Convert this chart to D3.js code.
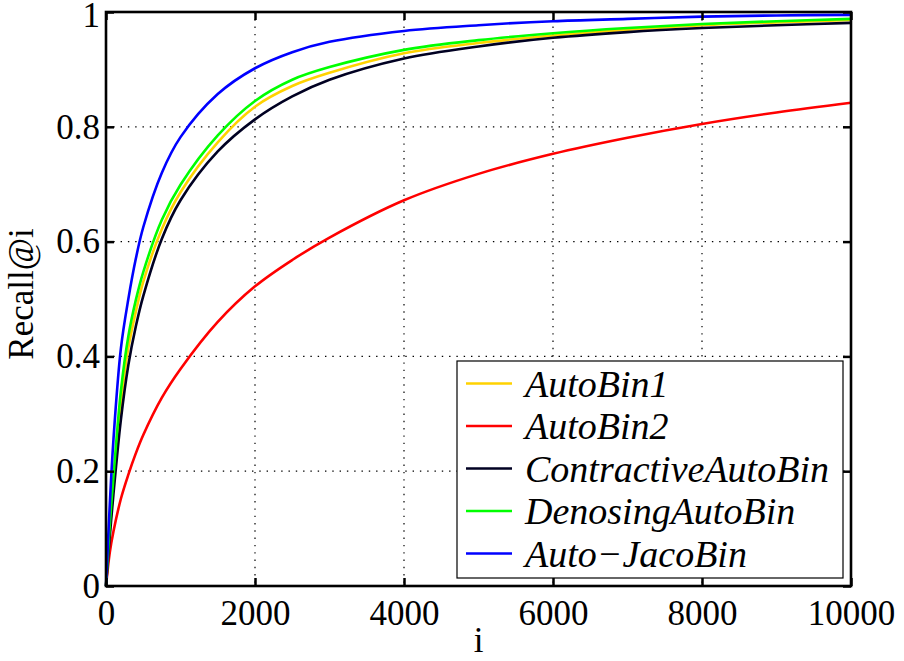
<!DOCTYPE html>
<html>
<head>
<meta charset="utf-8">
<script src="https://cdn.jsdelivr.net/npm/d3@7"></script>
<style>
  html, body { margin: 0; padding: 0; background: #fff; }
  svg { display: block; font-family: "Liberation Serif", "Times New Roman", serif; }
</style>
</head>
<body>
<svg id="chart" width="904" height="661"></svg>
<script>
// Ranked-retrieval positions i at which recall was evaluated
const positions = [0, 50, 100, 200, 300, 400, 500, 750, 1000, 1500, 2000, 2500, 3000, 4000, 5000, 6000, 7000, 8000, 9000, 10000];

// Recall@i for each hashing model
const autoBin1     = [0, 0.095, 0.175, 0.320, 0.415, 0.478, 0.530, 0.622, 0.686, 0.773, 0.835, 0.871, 0.894, 0.928, 0.946, 0.959, 0.969, 0.977, 0.982, 0.986];
const autoBin2     = [0, 0.058, 0.095, 0.152, 0.194, 0.231, 0.263, 0.328, 0.378, 0.460, 0.522, 0.568, 0.607, 0.672, 0.718, 0.753, 0.781, 0.805, 0.825, 0.842];
const contractive  = [0, 0.085, 0.160, 0.290, 0.385, 0.452, 0.505, 0.605, 0.672, 0.757, 0.813, 0.853, 0.882, 0.919, 0.940, 0.955, 0.965, 0.972, 0.977, 0.981];
const denosing     = [0, 0.105, 0.190, 0.340, 0.435, 0.498, 0.547, 0.638, 0.699, 0.785, 0.845, 0.882, 0.904, 0.934, 0.951, 0.963, 0.972, 0.979, 0.984, 0.988];
const autoJaco     = [0, 0.140, 0.255, 0.414, 0.500, 0.570, 0.625, 0.720, 0.782, 0.857, 0.902, 0.930, 0.948, 0.967, 0.977, 0.984, 0.988, 0.992, 0.994, 0.995];

const seriesNames  = ["AutoBin1", "AutoBin2", "ContractiveAutoBin", "DenosingAutoBin", "Auto\u2212JacoBin"];
const seriesValues = [autoBin1, autoBin2, contractive, denosing, autoJaco];
const seriesColors = ["#ffd200", "#ff0000", "#000022", "#00ff00", "#0000ff"];

const xTicks = [0, 2000, 4000, 6000, 8000, 10000];
const yTicks = [0, 0.2, 0.4, 0.6, 0.8, 1];

const svg = d3.select("#chart");
const plot = { left: 106, top: 12, right: 851, bottom: 586 };

const x = d3.scaleLinear().domain([0, 10000]).range([plot.left, plot.right]);
const y = d3.scaleLinear().domain([0, 1]).range([plot.bottom, plot.top]);

// dotted grid
const grid = svg.append("g").attr("stroke", "#000").attr("stroke-width", 1.2)
  .attr("stroke-dasharray", "1.4,5.9");
grid.selectAll("line.gx").data(xTicks.slice(1, -1)).join("line")
  .attr("x1", d => x(d)).attr("x2", d => x(d))
  .attr("y1", plot.top).attr("y2", plot.bottom);
grid.selectAll("line.gy").data(yTicks.slice(1, -1)).join("line")
  .attr("y1", d => y(d)).attr("y2", d => y(d))
  .attr("x1", plot.left).attr("x2", plot.right);

// curves (centripetal Catmull-Rom keeps them smooth through unevenly spaced positions)
const line = d3.line()
  .x((d, k) => x(positions[k]))
  .y(d => y(d))
  .curve(d3.curveCatmullRom.alpha(0.5));

svg.append("g").selectAll("path").data(seriesValues).join("path")
  .attr("d", d => line(d))
  .attr("fill", "none")
  .attr("stroke", (d, k) => seriesColors[k])
  .attr("stroke-width", 2.6)
  .attr("stroke-linejoin", "round");

// axes: inward ticks on all four sides
const tickLen = 8;
const fontSize = 35;
const axisBottom = d3.axisBottom(x).tickValues(xTicks).tickSizeInner(-tickLen).tickSizeOuter(0).tickPadding(14).tickFormat(d3.format("d"));
const axisTop = d3.axisTop(x).tickValues(xTicks).tickSizeInner(-tickLen).tickSizeOuter(0).tickFormat("");
const axisLeft = d3.axisLeft(y).tickValues(yTicks).tickSizeInner(-tickLen).tickSizeOuter(0).tickPadding(6).tickFormat(d => d === 0 || d === 1 ? String(d) : d3.format(".1f")(d));
const axisRight = d3.axisRight(y).tickValues(yTicks).tickSizeInner(-tickLen).tickSizeOuter(0).tickFormat("");

function styleAxis(g) {
  g.select(".domain").remove();
  g.selectAll(".tick line").attr("stroke", "#000").attr("stroke-width", 2.5);
  g.selectAll(".tick text").attr("fill", "#000")
    .style("font-family", '"Liberation Serif", "Times New Roman", serif')
    .style("font-size", fontSize + "px");
}

svg.append("g").attr("transform", `translate(0,${plot.bottom})`).call(axisBottom).call(styleAxis);
svg.append("g").attr("transform", `translate(0,${plot.top})`).call(axisTop).call(styleAxis);
const leftAxis = svg.append("g").attr("transform", `translate(${plot.left},0)`).call(axisLeft).call(styleAxis);
// keep the top label inside the canvas
leftAxis.selectAll(".tick text").filter(d => d === 1).attr("dy", "0.42em");
svg.append("g").attr("transform", `translate(${plot.right},0)`).call(axisRight).call(styleAxis);

// axes box
svg.append("rect")
  .attr("x", plot.left).attr("y", plot.top)
  .attr("width", plot.right - plot.left).attr("height", plot.bottom - plot.top)
  .attr("fill", "none").attr("stroke", "#000").attr("stroke-width", 2.6);

// axis titles
svg.append("text")
  .attr("x", (plot.left + plot.right) / 2).attr("y", 652)
  .attr("text-anchor", "middle")
  .style("font-size", fontSize + "px")
  .text("i");

svg.append("text")
  .attr("transform", `translate(33,${(228 + 360) / 2}) rotate(-90)`)
  .attr("text-anchor", "middle")
  .style("font-size", fontSize + "px")
  .text("Recall@i");

// legend
const legend = svg.append("g");
legend.append("rect")
  .attr("x", 457).attr("y", 361).attr("width", 386).attr("height", 217)
  .attr("fill", "#fff").attr("stroke", "#000").attr("stroke-width", 1.2);

const rowY = d3.scaleLinear().domain([0, seriesNames.length - 1]).range([383.5, 553.5]);
const rows = legend.selectAll("g.row").data(seriesNames).join("g")
  .attr("transform", (d, k) => `translate(0,${rowY(k)})`);
rows.append("line")
  .attr("x1", 466).attr("x2", 512)
  .attr("stroke", (d, k) => seriesColors[k]).attr("stroke-width", 2.6);
rows.append("text")
  .attr("x", 525).attr("y", 13)
  .style("font-size", "38px").style("font-style", "italic")
  .text(d => d);
</script>
</body>
</html>
